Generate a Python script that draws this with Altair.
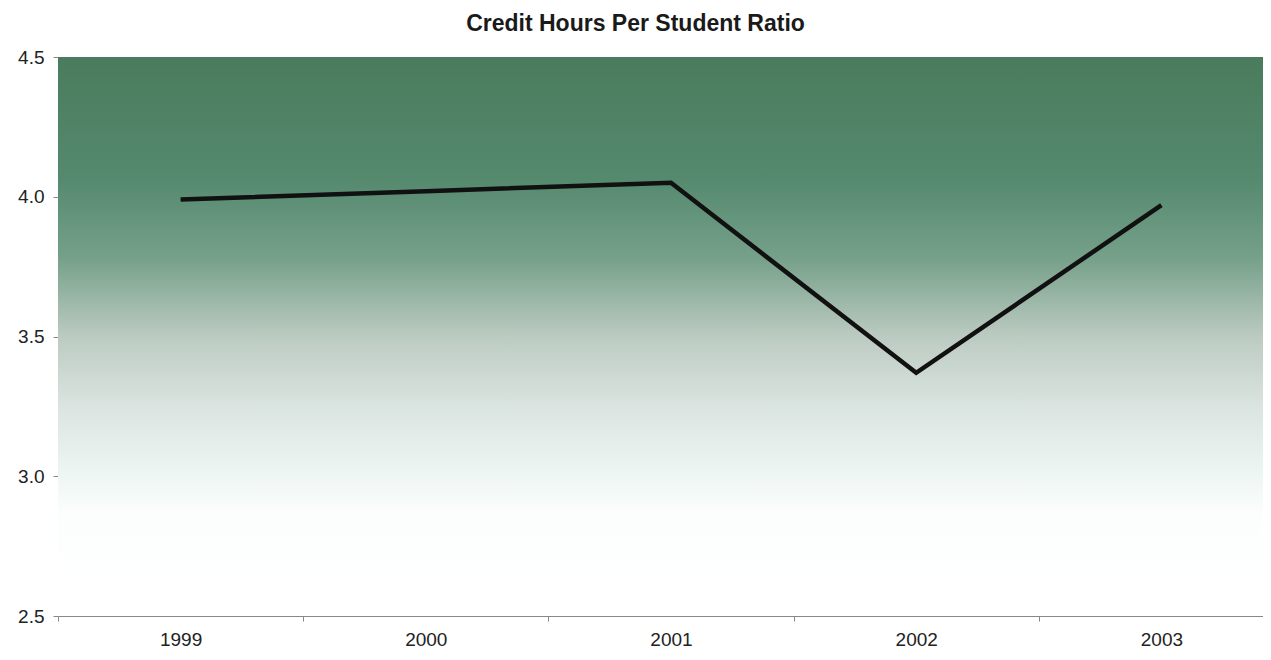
import altair as alt
import pandas as pd

years = ["1999", "2000", "2001", "2002", "2003"]
ratio = [3.99, 4.02, 4.05, 3.37, 3.97]

df = pd.DataFrame({"year": years, "ratio": ratio})
bg = pd.DataFrame({"top": [4.5], "bottom": [2.5]})

gradient = alt.Gradient(
    gradient="linear",
    x1=0, x2=0, y1=0, y2=1,
    stops=[
        alt.GradientStop(offset=0.0, color="#4a7b5c"),
        alt.GradientStop(offset=0.22, color="#558a6f"),
        alt.GradientStop(offset=0.36, color="#76a08a"),
        alt.GradientStop(offset=0.5, color="#bccbc1"),
        alt.GradientStop(offset=0.62, color="#d9e3df"),
        alt.GradientStop(offset=0.74, color="#edf5f2"),
        alt.GradientStop(offset=0.82, color="#fcfefd"),
        alt.GradientStop(offset=1.0, color="#ffffff"),
    ],
)

yscale = alt.Scale(domain=[2.5, 4.5], nice=False, zero=False)

background = alt.Chart(bg).mark_rect(fill=gradient).encode(
    x=alt.value(0),
    x2=alt.value("width"),
    y=alt.Y("top:Q", scale=yscale),
    y2="bottom:Q",
)

line = alt.Chart(df).mark_line(
    color="#111111", strokeWidth=4.5, strokeCap="butt", strokeJoin="miter"
).encode(
    x=alt.X(
        "year:N",
        bandPosition=0.5,
        scale=alt.Scale(type="band", paddingInner=0, paddingOuter=0, range=[0, 1226]),
        axis=alt.Axis(
            title=None, labelAngle=0, tickBand="extent", labelFontSize=19,
            labelColor="#222222", labelFont="Liberation Sans", tickSize=5,
            labelPadding=9, domainColor="#888888", tickColor="#888888",
        ),
    ),
    y=alt.Y(
        "ratio:Q",
        scale=yscale,
        axis=alt.Axis(
            title=None, values=[2.5, 3.0, 3.5, 4.0, 4.5], format=".1f",
            labelFontSize=19, labelColor="#222222", labelFont="Liberation Sans",
            tickSize=5, labelPadding=9, grid=False, domainColor="#888888",
            tickColor="#888888",
        ),
    ),
)

chart = (
    alt.layer(background, line)
    .properties(
        width=1205,
        height=559,
        title=alt.Title(
            "Credit Hours Per Student Ratio",
            font="Liberation Sans", fontSize=23, fontWeight="bold",
            color="#1a1a1a", anchor="middle", offset=12, dx=-25,
        ),
        autosize=alt.AutoSizeParams(type="none"),
        padding={"left": 50, "top": 49, "right": 0, "bottom": 36},
    )
    .configure_view(stroke=None)
)

chart.save("out.html", embed_options={"renderer": "svg", "actions": False})
